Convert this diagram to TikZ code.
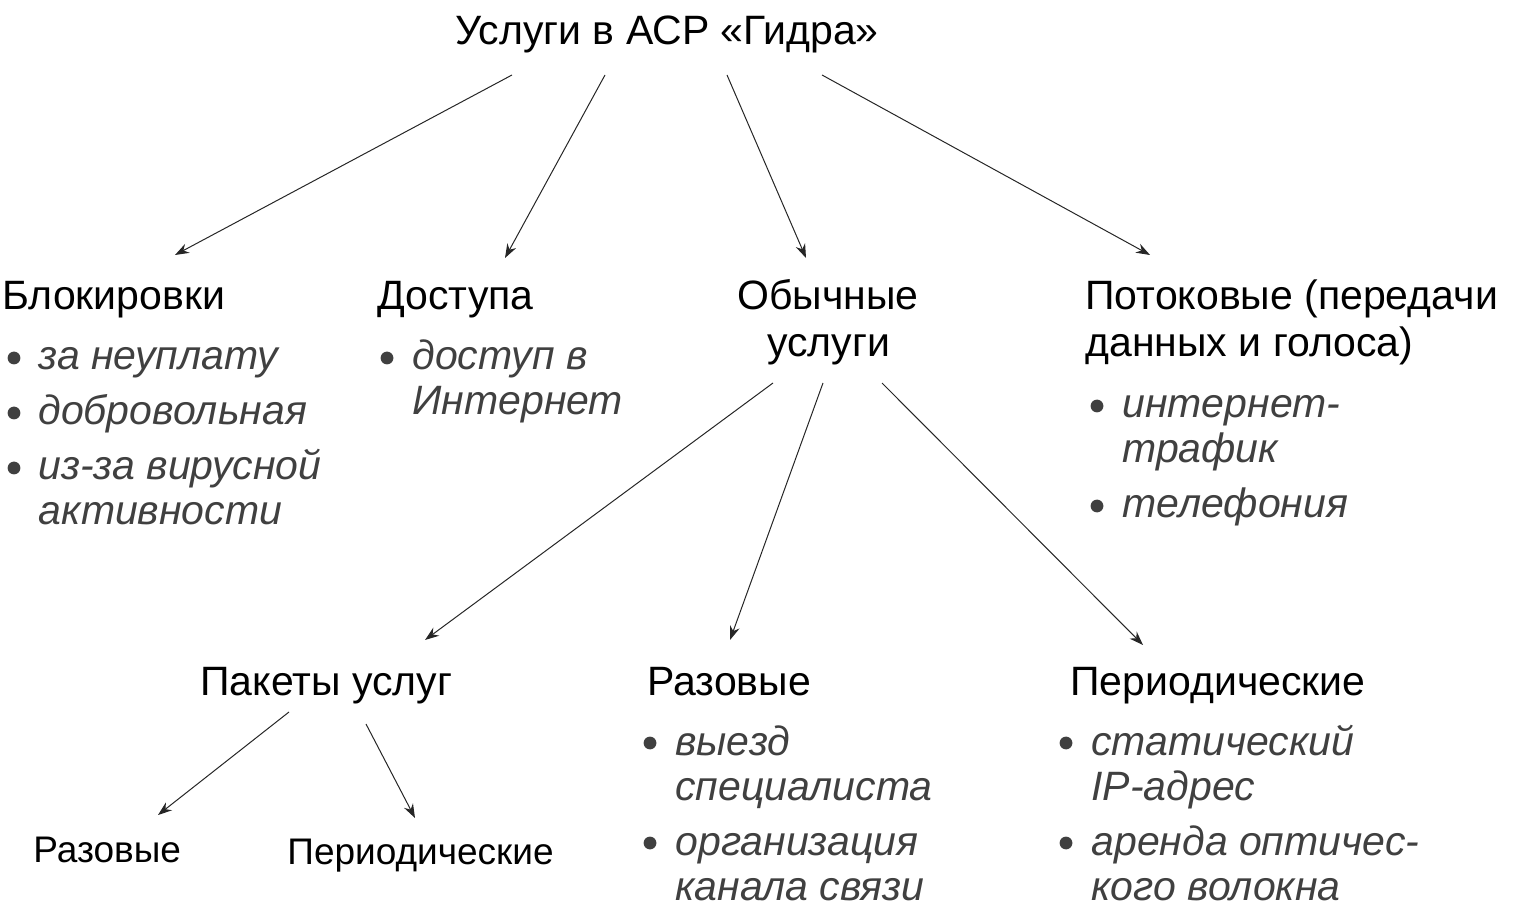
\documentclass[tikz,border=0pt]{standalone}
\usepackage{fontspec}
\setmainfont{Liberation Sans}
\usetikzlibrary{arrows.meta}
\definecolor{itemgray}{HTML}{404040}
\tikzset{
  head/.style={anchor=base west, inner sep=0pt, font=\fontsize{20.5}{23.5}\selectfont},
  small/.style={anchor=base west, inner sep=0pt, font=\fontsize{18.5}{21}\selectfont},
  item/.style={anchor=base west, inner sep=0pt, text=itemgray, font=\fontsize{20.5}{23.5}\selectfont\itshape},
  arr/.style={-{Stealth[length=7pt,width=5pt]}, line width=0.5pt, draw=black!85},
}
\newcommand{\dotat}[2]{\fill[itemgray] (#1,#2) circle (3.2pt);}
\begin{document}
\begin{tikzpicture}[x=0.5pt,y=-0.5pt]
  \useasboundingbox (0,0) rectangle (1519,913);
  % top
  \node[head] (root) at (455,45) {Услуги в АСР «Гидра»};
  % second level
  \node[head] (blk) at (2,310) {Блокировки};
  \node[head] (dst) at (377,310) {Доступа};
  \node[head] (obch1) at (737,310) {Обычные};
  \node[head] (obch2) at (767,357) {услуги};
  \node[head] (pot1) at (1085,310) {Потоковые (передачи};
  \node[head] (pot2) at (1085,357) {данных и голоса)};
  % items
  \dotat{14}{358} \node[item] (blk1) at (38,370) {за неуплату};
  \dotat{14}{413} \node[item] (blk2) at (38,425) {добровольная};
  \dotat{14}{468} \node[item] (blk3) at (38,480) {из-за вирусной};
  \node[item] (blk4) at (38,525) {активности};
  \dotat{387}{358} \node[item] (dst1) at (412,370) {доступ в};
  \node[item] (dst2) at (412,415) {Интернет};
  \dotat{1097}{406} \node[item] (pot3) at (1122,418) {интернет-};
  \node[item] (pot4) at (1122,463) {трафик};
  \dotat{1097}{506} \node[item] (pot5) at (1122,518) {телефония};
  % third level
  \node[head] (pak) at (200,695) {Пакеты услуг};
  \node[head] (raz) at (647,695) {Разовые};
  \node[head] (per) at (1070,695) {Периодические};
  \dotat{650}{743} \node[item] (raz1) at (675,755) {выезд};
  \node[item] (raz2) at (675,800) {специалиста};
  \dotat{650}{843} \node[item] (raz3) at (675,855) {организация};
  \node[item] (raz4) at (675,900) {канала связи};
  \dotat{1066}{743} \node[item] (per1) at (1091,755) {статический};
  \node[item] (per2) at (1091,800) {IP-адрес};
  \dotat{1066}{843} \node[item] (per3) at (1091,855) {аренда оптичес-};
  \node[item] (per4) at (1091,900) {кого волокна};
  % fourth level
  \node[small] (pkraz) at (33,862) {Разовые};
  \node[small] (pkper) at (287,864) {Периодические};
  % arrow ends
  \coordinate (r1) at (512,75); \coordinate (r2) at (605,75);
  \coordinate (r3) at (727,75); \coordinate (r4) at (822,75);
  \coordinate (blkT) at (175,255); \coordinate (dstT) at (505,258);
  \coordinate (obchT) at (806,258); \coordinate (potT) at (1150,255);
  \coordinate (o1) at (773,383); \coordinate (o2) at (823,383); \coordinate (o3) at (882,383);
  \coordinate (pakT) at (425,640); \coordinate (razT) at (730,640); \coordinate (perT) at (1143,645);
  \coordinate (p1) at (289,712); \coordinate (p2) at (366,724);
  \coordinate (pkrazT) at (158,815); \coordinate (pkperT) at (415,818);
  \draw[arr] (r1) -- (blkT);
  \draw[arr] (r2) -- (dstT);
  \draw[arr] (r3) -- (obchT);
  \draw[arr] (r4) -- (potT);
  \draw[arr] (o1) -- (pakT);
  \draw[arr] (o2) -- (razT);
  \draw[arr] (o3) -- (perT);
  \draw[arr] (p1) -- (pkrazT);
  \draw[arr] (p2) -- (pkperT);
\end{tikzpicture}
\end{document}
